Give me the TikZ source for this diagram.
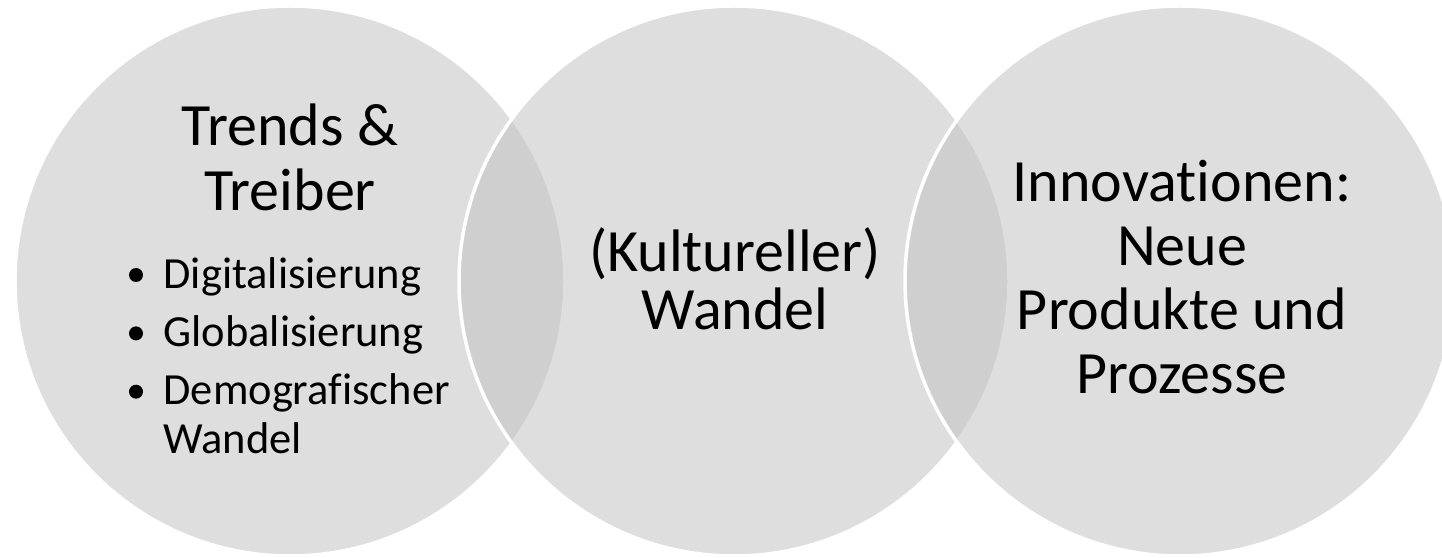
\documentclass[tikz,border=0pt]{standalone}
\usepackage{fontspec}
\setmainfont[RawFeature={-liga;-clig;-calt;-dlig}]{Carlito}
\definecolor{venngray}{RGB}{195,195,195}
\tikzset{
  venncircle/.style={circle, minimum size=550pt, inner sep=0pt,
    fill=venngray, fill opacity=0.55, draw=white, line width=3.5pt},
  titletext/.style={anchor=base, inner sep=0pt, text=black,
    font=\fontsize{60}{64}\selectfont},
  itemtext/.style={anchor=base west, inner sep=0pt, text=black,
    font=\fontsize{44.5}{50}\selectfont},
  bulletdot/.style={circle, fill=black, inner sep=0pt, minimum size=14pt}
}
\begin{document}
\begin{tikzpicture}[x=1pt, y=1pt]
  \useasboundingbox (0,0) rectangle (1442,557);
  % three overlapping circles, drawn left to right
  \node[venncircle] (left)   at (290,276) {};
  \node[venncircle] (middle) at (734,276) {};
  \node[venncircle] (right)  at (1180,276) {};

  % left circle: heading and list
  \node[titletext] (t1) at (290,411) {Trends \&};
  \node[titletext] (t2) at (290,346.3) {Treiber};
  \node[bulletdot] (b1) at (136,282) {};
  \node[bulletdot] (b2) at (136,223.6) {};
  \node[bulletdot] (b3) at (136,165.3) {};
  \node[itemtext] (i1) at (163.3,268.7) {Digitalisierung};
  \node[itemtext] (i2) at (163.3,210.3) {Globalisierung};
  \node[itemtext] (i3) at (163.3,152) {Demografischer};
  \node[itemtext] (i4) at (163.3,103) {Wandel};

  % middle circle
  \node[titletext] (m1) at (735,285.3) {(Kultureller)};
  \node[titletext] (m2) at (735,227) {Wandel};

  % right circle
  \node[titletext] (r1) at (1182,355.3) {Innovat\kern0pt ionen:};
  \node[titletext] (r2) at (1182,291.5) {Neue};
  \node[titletext] (r3) at (1182,227.6) {Produkte und};
  \node[titletext] (r4) at (1182,163.7) {Prozesse};
\end{tikzpicture}
\end{document}
